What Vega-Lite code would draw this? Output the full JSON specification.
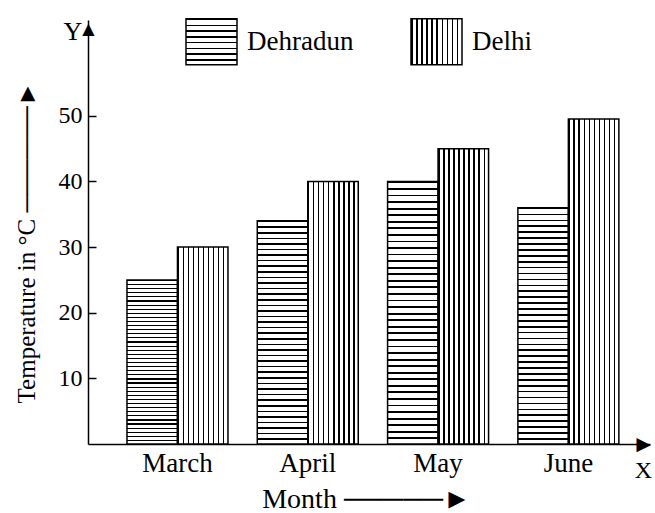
{
  "$schema": "https://vega.github.io/schema/vega-lite/v6.json",
  "width": 562,
  "height": 424,
  "autosize": {"type": "none"},
  "padding": {"left": 88, "top": 20, "right": 5, "bottom": 69},
  "background": "white",
  "config": {"view": {"stroke": null}, "font": "Liberation Serif", "axis": {"grid": false}},
  "data": {
    "values": [
      {"month": "March", "city": "Dehradun", "temp": 25},
      {"month": "March", "city": "Delhi", "temp": 30},
      {"month": "April", "city": "Dehradun", "temp": 34},
      {"month": "April", "city": "Delhi", "temp": 40},
      {"month": "May", "city": "Dehradun", "temp": 40},
      {"month": "May", "city": "Delhi", "temp": 45},
      {"month": "June", "city": "Dehradun", "temp": 36},
      {"month": "June", "city": "Delhi", "temp": 49.5}
    ]
  },
  "layer": [
    {
      "mark": {"type": "bar", "stroke": "#000", "strokeWidth": 1.5},
      "encoding": {
        "x": {
          "field": "month", "type": "nominal", "sort": ["March", "April", "May", "June"],
          "scale": {"paddingInner": 0.225, "paddingOuter": 0.269, "align": 0.556},
          "axis": {
            "orient": "bottom", "ticks": false, "domainColor": "#000", "domainWidth": 1.5,
            "labelFont": "Liberation Serif", "labelFontSize": 27, "labelColor": "#000", "labelPadding": 6, "labelAngle": 0,
            "title": "Month ─────►", "titleFont": "Liberation Serif", "titleFontSize": 28, "titleFontWeight": "normal", "titleColor": "#000",
            "titleX": 278, "titleY": 63, "titleAlign": "center", "titleBaseline": "alphabetic"
          }
        },
        "xOffset": {"field": "city", "type": "nominal", "sort": ["Dehradun", "Delhi"], "scale": {"paddingInner": 0, "paddingOuter": 0}},
        "y": {
          "field": "temp", "type": "quantitative",
          "scale": {"domain": [0, 64.6], "nice": false},
          "axis": {
            "orient": "left", "values": [10, 20, 30, 40, 50], "tickSize": -8, "tickColor": "#000", "tickWidth": 1.5,
            "domainColor": "#000", "domainWidth": 1.5, "labelFont": "Liberation Serif", "labelFontSize": 24, "labelColor": "#000", "labelPadding": 14,
            "title": "Temperature in °C ──────►", "titleFont": "Liberation Serif", "titleFontSize": 25, "titleFontWeight": "normal", "titleColor": "#000",
            "titleX": -54, "titleY": 222, "titleAngle": -90, "titleAlign": "center", "titleBaseline": "alphabetic"
          }
        },
        "fill": {
          "field": "city", "type": "nominal",
          "condition": {
            "test": "datum.city === 'Dehradun'",
            "value": {
              "gradient": "linear", "x1": 0, "y1": 0, "x2": 0, "y2": 1,
              "stops": [
                {"offset": 0, "color": "#000"}, {"offset": 0.007, "color": "#000"}, {"offset": 0.007, "color": "#fff"}, {"offset": 0.025, "color": "#fff"},
                {"offset": 0.025, "color": "#000"}, {"offset": 0.032, "color": "#000"}, {"offset": 0.032, "color": "#fff"}, {"offset": 0.05, "color": "#fff"},
                {"offset": 0.05, "color": "#000"}, {"offset": 0.057, "color": "#000"}, {"offset": 0.057, "color": "#fff"}, {"offset": 0.075, "color": "#fff"},
                {"offset": 0.075, "color": "#000"}, {"offset": 0.082, "color": "#000"}, {"offset": 0.082, "color": "#fff"}, {"offset": 0.1, "color": "#fff"},
                {"offset": 0.1, "color": "#000"}, {"offset": 0.107, "color": "#000"}, {"offset": 0.107, "color": "#fff"}, {"offset": 0.125, "color": "#fff"},
                {"offset": 0.125, "color": "#000"}, {"offset": 0.132, "color": "#000"}, {"offset": 0.132, "color": "#fff"}, {"offset": 0.15, "color": "#fff"},
                {"offset": 0.15, "color": "#000"}, {"offset": 0.157, "color": "#000"}, {"offset": 0.157, "color": "#fff"}, {"offset": 0.175, "color": "#fff"},
                {"offset": 0.175, "color": "#000"}, {"offset": 0.182, "color": "#000"}, {"offset": 0.182, "color": "#fff"}, {"offset": 0.2, "color": "#fff"},
                {"offset": 0.2, "color": "#000"}, {"offset": 0.207, "color": "#000"}, {"offset": 0.207, "color": "#fff"}, {"offset": 0.225, "color": "#fff"},
                {"offset": 0.225, "color": "#000"}, {"offset": 0.232, "color": "#000"}, {"offset": 0.232, "color": "#fff"}, {"offset": 0.25, "color": "#fff"},
                {"offset": 0.25, "color": "#000"}, {"offset": 0.257, "color": "#000"}, {"offset": 0.257, "color": "#fff"}, {"offset": 0.275, "color": "#fff"},
                {"offset": 0.275, "color": "#000"}, {"offset": 0.282, "color": "#000"}, {"offset": 0.282, "color": "#fff"}, {"offset": 0.3, "color": "#fff"},
                {"offset": 0.3, "color": "#000"}, {"offset": 0.307, "color": "#000"}, {"offset": 0.307, "color": "#fff"}, {"offset": 0.325, "color": "#fff"},
                {"offset": 0.325, "color": "#000"}, {"offset": 0.332, "color": "#000"}, {"offset": 0.332, "color": "#fff"}, {"offset": 0.35, "color": "#fff"},
                {"offset": 0.35, "color": "#000"}, {"offset": 0.357, "color": "#000"}, {"offset": 0.357, "color": "#fff"}, {"offset": 0.375, "color": "#fff"},
                {"offset": 0.375, "color": "#000"}, {"offset": 0.382, "color": "#000"}, {"offset": 0.382, "color": "#fff"}, {"offset": 0.4, "color": "#fff"},
                {"offset": 0.4, "color": "#000"}, {"offset": 0.407, "color": "#000"}, {"offset": 0.407, "color": "#fff"}, {"offset": 0.425, "color": "#fff"},
                {"offset": 0.425, "color": "#000"}, {"offset": 0.432, "color": "#000"}, {"offset": 0.432, "color": "#fff"}, {"offset": 0.45, "color": "#fff"},
                {"offset": 0.45, "color": "#000"}, {"offset": 0.457, "color": "#000"}, {"offset": 0.457, "color": "#fff"}, {"offset": 0.475, "color": "#fff"},
                {"offset": 0.475, "color": "#000"}, {"offset": 0.482, "color": "#000"}, {"offset": 0.482, "color": "#fff"}, {"offset": 0.5, "color": "#fff"},
                {"offset": 0.5, "color": "#000"}, {"offset": 0.507, "color": "#000"}, {"offset": 0.507, "color": "#fff"}, {"offset": 0.525, "color": "#fff"},
                {"offset": 0.525, "color": "#000"}, {"offset": 0.532, "color": "#000"}, {"offset": 0.532, "color": "#fff"}, {"offset": 0.55, "color": "#fff"},
                {"offset": 0.55, "color": "#000"}, {"offset": 0.557, "color": "#000"}, {"offset": 0.557, "color": "#fff"}, {"offset": 0.575, "color": "#fff"},
                {"offset": 0.575, "color": "#000"}, {"offset": 0.582, "color": "#000"}, {"offset": 0.582, "color": "#fff"}, {"offset": 0.6, "color": "#fff"},
                {"offset": 0.6, "color": "#000"}, {"offset": 0.607, "color": "#000"}, {"offset": 0.607, "color": "#fff"}, {"offset": 0.625, "color": "#fff"},
                {"offset": 0.625, "color": "#000"}, {"offset": 0.632, "color": "#000"}, {"offset": 0.632, "color": "#fff"}, {"offset": 0.65, "color": "#fff"},
                {"offset": 0.65, "color": "#000"}, {"offset": 0.657, "color": "#000"}, {"offset": 0.657, "color": "#fff"}, {"offset": 0.675, "color": "#fff"},
                {"offset": 0.675, "color": "#000"}, {"offset": 0.682, "color": "#000"}, {"offset": 0.682, "color": "#fff"}, {"offset": 0.7, "color": "#fff"},
                {"offset": 0.7, "color": "#000"}, {"offset": 0.707, "color": "#000"}, {"offset": 0.707, "color": "#fff"}, {"offset": 0.725, "color": "#fff"},
                {"offset": 0.725, "color": "#000"}, {"offset": 0.732, "color": "#000"}, {"offset": 0.732, "color": "#fff"}, {"offset": 0.75, "color": "#fff"},
                {"offset": 0.75, "color": "#000"}, {"offset": 0.757, "color": "#000"}, {"offset": 0.757, "color": "#fff"}, {"offset": 0.775, "color": "#fff"},
                {"offset": 0.775, "color": "#000"}, {"offset": 0.782, "color": "#000"}, {"offset": 0.782, "color": "#fff"}, {"offset": 0.8, "color": "#fff"},
                {"offset": 0.8, "color": "#000"}, {"offset": 0.807, "color": "#000"}, {"offset": 0.807, "color": "#fff"}, {"offset": 0.825, "color": "#fff"},
                {"offset": 0.825, "color": "#000"}, {"offset": 0.832, "color": "#000"}, {"offset": 0.832, "color": "#fff"}, {"offset": 0.85, "color": "#fff"},
                {"offset": 0.85, "color": "#000"}, {"offset": 0.857, "color": "#000"}, {"offset": 0.857, "color": "#fff"}, {"offset": 0.875, "color": "#fff"},
                {"offset": 0.875, "color": "#000"}, {"offset": 0.882, "color": "#000"}, {"offset": 0.882, "color": "#fff"}, {"offset": 0.9, "color": "#fff"},
                {"offset": 0.9, "color": "#000"}, {"offset": 0.907, "color": "#000"}, {"offset": 0.907, "color": "#fff"}, {"offset": 0.925, "color": "#fff"},
                {"offset": 0.925, "color": "#000"}, {"offset": 0.932, "color": "#000"}, {"offset": 0.932, "color": "#fff"}, {"offset": 0.95, "color": "#fff"},
                {"offset": 0.95, "color": "#000"}, {"offset": 0.957, "color": "#000"}, {"offset": 0.957, "color": "#fff"}, {"offset": 0.975, "color": "#fff"},
                {"offset": 0.975, "color": "#000"}, {"offset": 0.982, "color": "#000"}, {"offset": 0.982, "color": "#fff"}, {"offset": 1, "color": "#fff"}
              ]
            }
          },
          "scale": {
            "domain": ["Dehradun", "Delhi"],
            "range": [
              {"expr": "{gradient:'linear',x1:0,y1:0,x2:0,y2:1,stops:[{offset:0,color:'#000'},{offset:0.035,color:'#000'},{offset:0.035,color:'#fff'},{offset:0.125,color:'#fff'},{offset:0.125,color:'#000'},{offset:0.16,color:'#000'},{offset:0.16,color:'#fff'},{offset:0.25,color:'#fff'},{offset:0.25,color:'#000'},{offset:0.285,color:'#000'},{offset:0.285,color:'#fff'},{offset:0.375,color:'#fff'},{offset:0.375,color:'#000'},{offset:0.41,color:'#000'},{offset:0.41,color:'#fff'},{offset:0.5,color:'#fff'},{offset:0.5,color:'#000'},{offset:0.535,color:'#000'},{offset:0.535,color:'#fff'},{offset:0.625,color:'#fff'},{offset:0.625,color:'#000'},{offset:0.66,color:'#000'},{offset:0.66,color:'#fff'},{offset:0.75,color:'#fff'},{offset:0.75,color:'#000'},{offset:0.785,color:'#000'},{offset:0.785,color:'#fff'},{offset:0.875,color:'#fff'},{offset:0.875,color:'#000'},{offset:0.91,color:'#000'},{offset:0.91,color:'#fff'},{offset:1,color:'#fff'}]}"},
              {"expr": "{gradient:'linear',x1:0,y1:0,x2:1,y2:0,stops:[{offset:0,color:'#000'},{offset:0.03,color:'#000'},{offset:0.03,color:'#fff'},{offset:0.1,color:'#fff'},{offset:0.1,color:'#000'},{offset:0.13,color:'#000'},{offset:0.13,color:'#fff'},{offset:0.2,color:'#fff'},{offset:0.2,color:'#000'},{offset:0.23,color:'#000'},{offset:0.23,color:'#fff'},{offset:0.3,color:'#fff'},{offset:0.3,color:'#000'},{offset:0.33,color:'#000'},{offset:0.33,color:'#fff'},{offset:0.4,color:'#fff'},{offset:0.4,color:'#000'},{offset:0.43,color:'#000'},{offset:0.43,color:'#fff'},{offset:0.5,color:'#fff'},{offset:0.5,color:'#000'},{offset:0.53,color:'#000'},{offset:0.53,color:'#fff'},{offset:0.6,color:'#fff'},{offset:0.6,color:'#000'},{offset:0.63,color:'#000'},{offset:0.63,color:'#fff'},{offset:0.7,color:'#fff'},{offset:0.7,color:'#000'},{offset:0.73,color:'#000'},{offset:0.73,color:'#fff'},{offset:0.8,color:'#fff'},{offset:0.8,color:'#000'},{offset:0.83,color:'#000'},{offset:0.83,color:'#fff'},{offset:0.9,color:'#fff'},{offset:0.9,color:'#000'},{offset:0.93,color:'#000'},{offset:0.93,color:'#fff'},{offset:1,color:'#fff'}]}"}
            ]
          },
          "legend": {
            "title": null, "orient": "none", "legendX": 97, "legendY": -5, "direction": "horizontal",
            "symbolType": "M-1,-0.9H1V0.9H-1Z", "symbolSize": 2601, "symbolStrokeColor": "#000", "symbolStrokeWidth": 1.5,
            "symbolOpacity": 1, "labelFontSize": 27, "labelFont": "Liberation Serif", "labelColor": "#000", "labelOffset": 9,
            "columnPadding": 54, "padding": 0, "labelLimit": 300
          }
        }
      }
    },
    {
      "mark": {"type": "bar", "opacity": 0},
      "encoding": {
        "x": {
          "field": "month", "type": "nominal", "sort": ["March", "April", "May", "June"],
          "axis": {
            "orient": "bottom", "labels": false, "ticks": false, "domain": false,
            "title": ["►", "X"], "titleFont": "Liberation Serif", "titleFontSize": 24, "titleLineHeight": 26, "titleFontWeight": "normal", "titleColor": "#000",
            "titleX": 555, "titleY": 7, "titleAlign": "center", "titleBaseline": "alphabetic"
          }
        },
        "xOffset": {"field": "city", "type": "nominal", "sort": ["Dehradun", "Delhi"]},
        "y": {
          "field": "temp", "type": "quantitative",
          "axis": {
            "orient": "left", "values": [64.6], "labelExpr": "'▲'", "labelFont": "DejaVu Sans", "labelFontSize": 16,
            "labelAlign": "center", "labelBaseline": "top", "labelPadding": 0, "labelFlush": false, "labelOverlap": false,
            "ticks": false, "domain": false, "labelColor": "#000",
            "title": "Y", "titleFont": "Liberation Serif", "titleFontSize": 26, "titleFontWeight": "normal", "titleColor": "#000", "titleAngle": 0,
            "titleX": -15.5, "titleY": 19, "titleAlign": "center", "titleBaseline": "alphabetic"
          }
        }
      }
    }
  ],
  "resolve": {"axis": {"x": "independent", "y": "independent"}}
}
